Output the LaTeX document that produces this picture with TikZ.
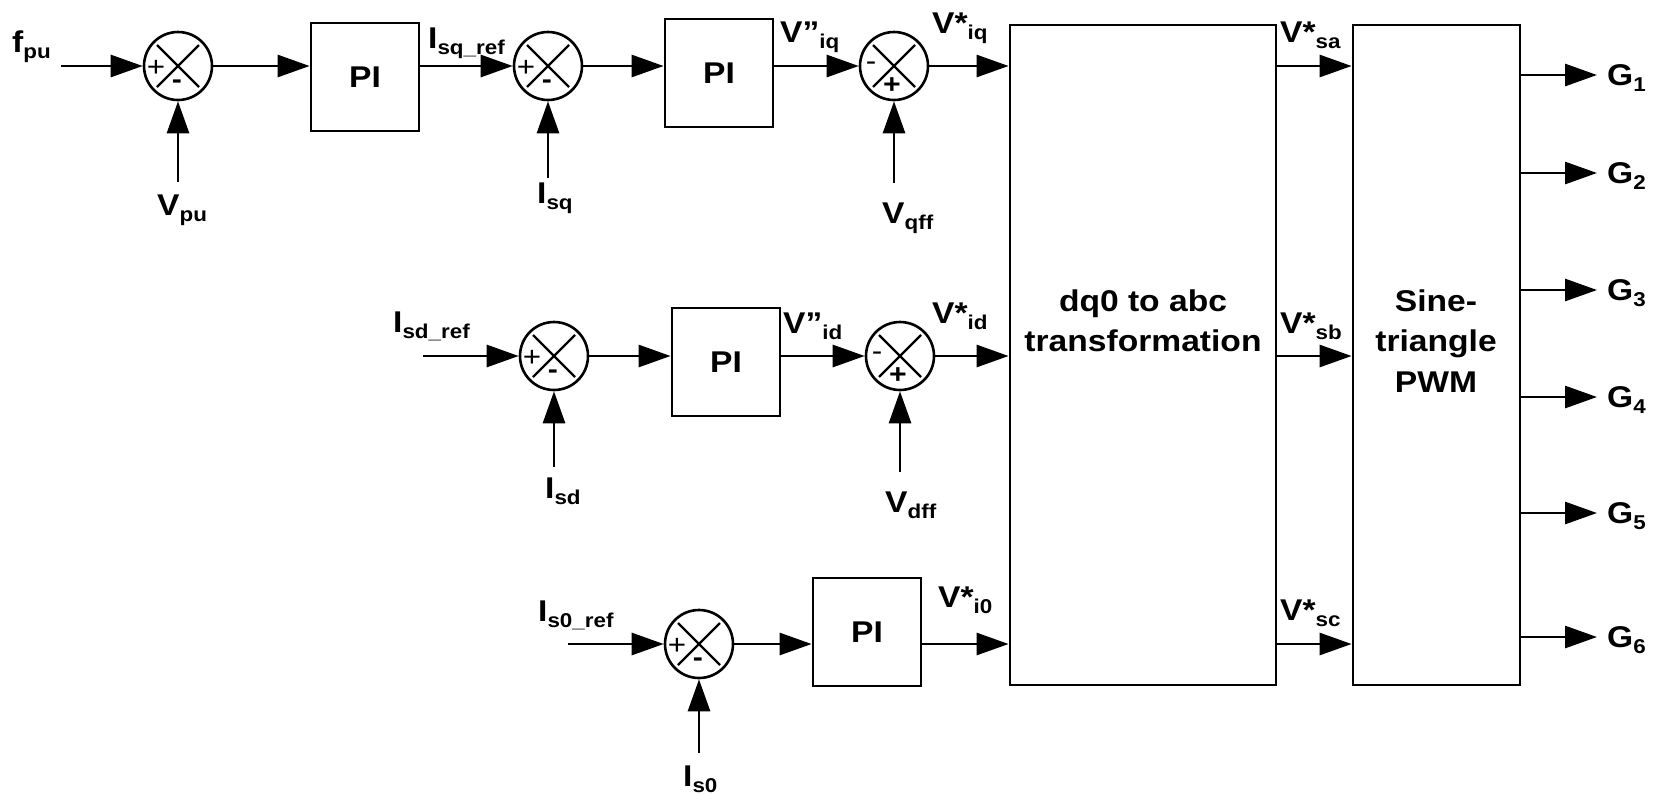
\documentclass[tikz,border=0pt]{standalone}
\usepackage{fontspec}
\setmainfont[FakeStretch=1.12]{Liberation Sans}
\usetikzlibrary{arrows.meta,calc}
\newcommand\lsub[1]{\raisebox{-6pt}{\fontsize{20}{20}\selectfont #1}}
\begin{document}
\begin{tikzpicture}[x=1pt,y=-1pt,
  every node/.style={font=\bfseries\fontsize{30}{40.5}\selectfont},
  lbl/.style={anchor=base west, inner sep=0pt},
  pibox/.style={draw, line width=2.8pt, minimum width=108pt, minimum height=108pt, inner sep=0pt},
  bigbox/.style={draw, line width=2.8pt, minimum height=660pt, inner sep=0pt},
  conn/.style={line width=2.8pt, -{Triangle[length=32pt,width=22pt]}},
  sumj/.style={circle, draw, line width=2.6pt, minimum size=68pt, inner sep=0pt,
    path picture={
      \draw[line width=2.3pt] ($(path picture bounding box.center)+(-21pt,-21pt)$) -- ($(path picture bounding box.center)+(21pt,21pt)$);
      \draw[line width=2.3pt] ($(path picture bounding box.center)+(-21pt,21pt)$) -- ($(path picture bounding box.center)+(21pt,-21pt)$);}},
  signthin/.style={inner sep=0pt, font=\mdseries\fontsize{28}{28}\selectfont},
  signbold/.style={inner sep=0pt, font=\bfseries\fontsize{27}{27}\selectfont},
  txt/.style={align=center, inner sep=0pt}
]
\useasboundingbox (0,0) rectangle (1656,793);

% ---------- blocks ----------
\node[sumj] (s1) at (178,66) {};
\node[sumj] (s2) at (548,66) {};
\node[sumj] (s3) at (894,66) {};
\node[sumj] (s4) at (554,356) {};
\node[sumj] (s5) at (900,356) {};
\node[sumj] (s6) at (699,644) {};

\node[pibox] (pi1) at (365,77) {PI};
\node[pibox] (pi2) at (719,73) {PI};
\node[pibox] (pi3) at (726,362) {PI};
\node[pibox] (pi4) at (867,632) {PI};

\node[bigbox, minimum width=266pt] (dq0) at (1143,355) {};
\node[txt] (dq0t) at (1143,321) {dq0 to abc\\transformation};
\node[bigbox, minimum width=167pt] (pwm) at (1436.5,355) {};
\node[txt] (pwmt) at (1436,341) {Sine-\\triangle\\PWM};

% ---------- signs ----------
\node[signthin] (s1p) at (156,68) {+};
\node[signbold] (s1m) at (177,84) {-};
\node[signthin] (s2p) at (526,68) {+};
\node[signbold] (s2m) at (547,84) {-};
\node[signthin] (s3m) at (871,66) {-};
\node[signbold] (s3p) at (892,86) {+};
\node[signthin] (s4p) at (532,358) {+};
\node[signbold] (s4m) at (553,374) {-};
\node[signthin] (s5m) at (877,356) {-};
\node[signbold] (s5p) at (898,376) {+};
\node[signthin] (s6p) at (677,646) {+};
\node[signbold] (s6m) at (698,662) {-};

% ---------- labels ----------
\node[lbl] (fpu) at (12,52) {f\lsub{pu}};
\node[lbl] (vpu) at (157,215) {V\lsub{pu}};
\node[lbl] (isqref) at (428,48) {I\lsub{sq\_ref}};
\node[lbl] (isq) at (537,203) {I\lsub{sq}};
\node[lbl] (vppiq) at (780,42) {V”\lsub{iq}};
\node[lbl] (vqff) at (882,223) {V\lsub{qff}};
\node[lbl] (vsiq) at (932,33) {V*\lsub{iq}};
\node[lbl] (isdref) at (393,332) {I\lsub{sd\_ref}};
\node[lbl] (isd) at (545,498) {I\lsub{sd}};
\node[lbl] (vppid) at (783,333) {V”\lsub{id}};
\node[lbl] (vdff) at (885,512) {V\lsub{dff}};
\node[lbl] (vsid) at (932,323) {V*\lsub{id}};
\node[lbl] (is0ref) at (538,621) {I\lsub{s0\_ref}};
\node[lbl] (is0) at (683,786) {I\lsub{s0}};
\node[lbl] (vsi0) at (938,607) {V*\lsub{i0}};
\node[lbl] (vssa) at (1280,42) {V*\lsub{sa}};
\node[lbl] (vssb) at (1280,333) {V*\lsub{sb}};
\node[lbl] (vssc) at (1280,620) {V*\lsub{sc}};
\node[lbl] (g1) at (1607,85) {G\lsub{1}};
\node[lbl] (g2) at (1607,183) {G\lsub{2}};
\node[lbl] (g3) at (1607,300) {G\lsub{3}};
\node[lbl] (g4) at (1607,407) {G\lsub{4}};
\node[lbl] (g5) at (1607,523) {G\lsub{5}};
\node[lbl] (g6) at (1607,647) {G\lsub{6}};

% ---------- free ends ----------
\coordinate (in1) at (61,66);
\coordinate (in4) at (423,356);
\coordinate (in6) at (568,644);
\coordinate (vpuc) at (178,182);
\coordinate (isqc) at (548,178);
\coordinate (vqffc) at (894,183);
\coordinate (isdc) at (554,467);
\coordinate (vdffc) at (900,472);
\coordinate (is0c) at (699,753);
\coordinate (g1e) at (1597,75);
\coordinate (g2e) at (1597,173);
\coordinate (g3e) at (1597,290);
\coordinate (g4e) at (1597,397);
\coordinate (g5e) at (1597,513);
\coordinate (g6e) at (1597,637);

% ---------- connectors ----------
% row 1
\draw[conn] (in1) -- (s1);
\draw[conn] (vpuc) -- (s1);
\draw[conn] (s1) -- (s1 -| pi1.west);
\draw[conn] (pi1.east |- s2) -- (s2);
\draw[conn] (isqc) -- (s2);
\draw[conn] (s2) -- (s2 -| pi2.west);
\draw[conn] (pi2.east |- s3) -- (s3);
\draw[conn] (vqffc) -- (s3);
\draw[conn] (s3) -- (s3 -| dq0.west);
% row 2
\draw[conn] (in4) -- (s4);
\draw[conn] (isdc) -- (s4);
\draw[conn] (s4) -- (s4 -| pi3.west);
\draw[conn] (pi3.east |- s5) -- (s5);
\draw[conn] (vdffc) -- (s5);
\draw[conn] (s5) -- (s5 -| dq0.west);
% row 3
\draw[conn] (in6) -- (s6);
\draw[conn] (is0c) -- (s6);
\draw[conn] (s6) -- (s6 -| pi4.west);
\draw[conn] (pi4.east |- s6) -- (s6 -| dq0.west);
% dq0 -> PWM
\draw[conn] (dq0.east |- s3) -- (s3 -| pwm.west);
\draw[conn] (dq0.east |- s5) -- (s5 -| pwm.west);
\draw[conn] (dq0.east |- s6) -- (s6 -| pwm.west);
% PWM -> gates
\draw[conn] (pwm.east |- g1e) -- (g1e);
\draw[conn] (pwm.east |- g2e) -- (g2e);
\draw[conn] (pwm.east |- g3e) -- (g3e);
\draw[conn] (pwm.east |- g4e) -- (g4e);
\draw[conn] (pwm.east |- g5e) -- (g5e);
\draw[conn] (pwm.east |- g6e) -- (g6e);
\end{tikzpicture}
\end{document}
